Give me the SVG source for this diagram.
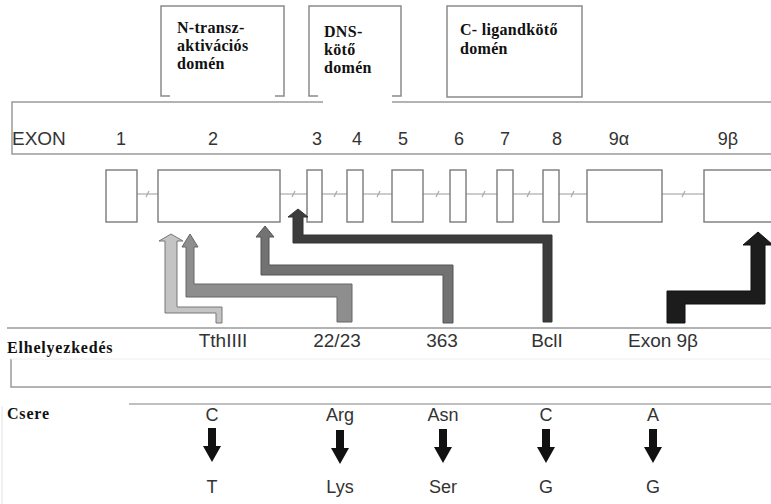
<svg xmlns="http://www.w3.org/2000/svg" width="771" height="504" viewBox="0 0 771 504">
<style>
.dom{fill:none;stroke:#8a8a8a;stroke-width:1.5}
.dt{font-family:"Liberation Serif",serif;font-weight:bold;font-size:16px;fill:#111;letter-spacing:0.3px}
.lbl{font-family:"Liberation Sans",Arial,sans-serif;font-size:18px;fill:#333;text-anchor:middle}
.loc{font-size:19px}
.ex{fill:#fff;stroke:#7a7a7a;stroke-width:1.4}
.intr{stroke:#9a9a9a;stroke-width:1.2;fill:none}
.mk{stroke:#aaa;stroke-width:1.2}
.rule{stroke:#9a9a9a;stroke-width:1.5;fill:none}
.hd{font-family:"Liberation Serif",serif;font-weight:bold;font-size:16px;fill:#111;letter-spacing:0.8px}
.arr{fill:#111}
</style>
<rect width="771" height="504" fill="#fff"/>

<g id="domain-n">
<path class="dom" d="M170,96 H161 V6 H284 V96 H275"/>
<text class="dt" x="177" y="33">N-transz-</text>
<text class="dt" x="177" y="51">aktivációs</text>
<text class="dt" x="177" y="69">domén</text>
</g>
<g id="domain-dns">
<path class="dom" d="M318,96 H309 V6 H401 V96 H392"/>
<text class="dt" x="324" y="37">DNS-</text>
<text class="dt" x="324" y="55">kötő</text>
<text class="dt" x="324" y="73">domén</text>
</g>
<g id="domain-c">
<rect class="dom" x="447" y="6" width="135" height="91"/>
<text class="dt" x="460" y="35">C- ligandkötő</text>
<text class="dt" x="460" y="54">domén</text>
</g>

<g id="exon-header">
<path class="rule" d="M323,102 H12 V154 H771 M392,102 H771"/>
<text x="12" y="145" font-family="Liberation Sans,Arial,sans-serif" font-size="19" fill="#333">EXON</text>
<text class="lbl" x="121" y="145">1</text>
<text class="lbl" x="213" y="145">2</text>
<text class="lbl" x="317" y="145">3</text>
<text class="lbl" x="357" y="145">4</text>
<text class="lbl" x="403" y="145">5</text>
<text class="lbl" x="459" y="145">6</text>
<text class="lbl" x="505" y="145">7</text>
<text class="lbl" x="557" y="145">8</text>
<text class="lbl" x="619" y="145">9α</text>
<text class="lbl" x="728" y="145">9β</text>
</g>

<g id="gene">
<line class="intr" x1="137" y1="194" x2="771" y2="194"/>
<g class="mk">
<line x1="146" y1="197" x2="149" y2="191"/>
<line x1="292" y1="197" x2="295" y2="191"/>
<line x1="334" y1="197" x2="337" y2="191"/>
<line x1="377" y1="197" x2="380" y2="191"/>
<line x1="436" y1="197" x2="439" y2="191"/>
<line x1="482" y1="197" x2="485" y2="191"/>
<line x1="527" y1="197" x2="530" y2="191"/>
<line x1="571" y1="197" x2="574" y2="191"/>
<line x1="682" y1="197" x2="685" y2="191"/>
</g>
<rect id="exon1" class="ex" x="106" y="170" width="31" height="52"/>
<rect id="exon2" class="ex" x="158" y="170" width="122" height="52"/>
<rect id="exon3" class="ex" x="307" y="170" width="15" height="52"/>
<rect id="exon4" class="ex" x="347" y="170" width="16" height="52"/>
<rect id="exon5" class="ex" x="392" y="170" width="31" height="52"/>
<rect id="exon6" class="ex" x="450" y="170" width="16" height="52"/>
<rect id="exon7" class="ex" x="497" y="170" width="16" height="52"/>
<rect id="exon8" class="ex" x="543" y="170" width="16" height="52"/>
<rect id="exon9a" class="ex" x="587" y="170" width="75" height="52"/>
<rect id="exon9b" class="ex" x="704" y="170" width="70" height="52"/>
</g>

<g id="connectors" stroke-linejoin="miter">
<path d="M165,241 L159,241 L171,234 L183,241 L177,241 L177,307 L222,307 L222,323 L216,323 L216,313 L165,313 Z" fill="#c4c4c4" stroke="#777" stroke-width="1"/>
<path d="M186,247 L182,247 L190,234 L198,247 L194,247 L194,284 L352,284 L352,322 L337,322 L337,297 L186,297 Z" fill="#8e8e8e" stroke="#666" stroke-width="1"/>
<path d="M261,237 L256,237 L265,226 L274,237 L269,237 L269,265 L453,265 L453,323 L443,323 L443,275 L261,275 Z" fill="#727272" stroke="#555" stroke-width="1"/>
<path d="M293,217 L288,217 L298,209 L308,217 L303,217 L303,235 L552,235 L552,322 L543,322 L543,243 L293,243 Z" fill="#3c3c3c" stroke="#333" stroke-width="1"/>
<path d="M751,245 L743,245 L758,232 L773,245 L765,245 L765,304 L685,304 L685,323 L667,323 L667,291 L751,291 Z" fill="#1c1c1c" stroke="#111" stroke-width="1"/>
</g>

<g id="location">
<line class="rule" x1="7" y1="328" x2="771" y2="328"/>
<path class="rule" d="M11,359 V387 H771"/>
<line x1="11" y1="359" x2="771" y2="359" stroke="#eee" stroke-width="1"/>
<text class="hd" x="7" y="353">Elhelyezkedés</text>
<text class="lbl loc" x="223" y="347">TthIIII</text>
<text class="lbl loc" x="337" y="347">22/23</text>
<text class="lbl loc" x="442" y="347">363</text>
<text class="lbl loc" x="547" y="347">BclI</text>
<text class="lbl loc" x="663" y="347">Exon 9β</text>
</g>

<g id="exchange">
<line x1="129" y1="404" x2="771" y2="404" stroke="#aaa" stroke-width="1.5"/>
<line x1="2" y1="406" x2="2" y2="504" stroke="#e2e2e2" stroke-width="1"/>
<text class="hd" x="7" y="419">Csere</text>
<text class="lbl" x="212" y="421">C</text>
<text class="lbl" x="340" y="421">Arg</text>
<text class="lbl" x="443" y="421">Asn</text>
<text class="lbl" x="546" y="421">C</text>
<text class="lbl" x="653" y="421">A</text>
<path class="arr" d="M208,428 h8 v18 h5 l-9,16 l-9,-16 h5 z"/>
<path class="arr" d="M336,430 h8 v18 h5 l-9,16 l-9,-16 h5 z"/>
<path class="arr" d="M439,429 h8 v18 h5 l-9,16 l-9,-16 h5 z"/>
<path class="arr" d="M542,429 h8 v18 h5 l-9,16 l-9,-16 h5 z"/>
<path class="arr" d="M649,429 h8 v18 h5 l-9,16 l-9,-16 h5 z"/>
<text class="lbl" x="212" y="493">T</text>
<text class="lbl" x="340" y="493">Lys</text>
<text class="lbl" x="443" y="493">Ser</text>
<text class="lbl" x="546" y="493">G</text>
<text class="lbl" x="653" y="493">G</text>
</g>
</svg>
